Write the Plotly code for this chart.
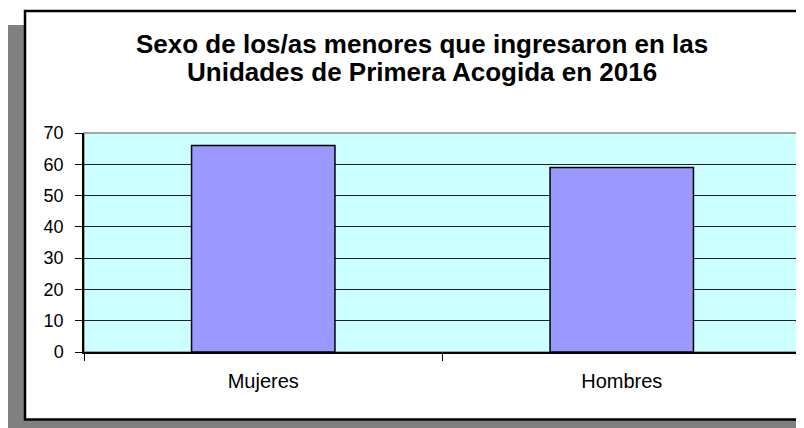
import plotly.graph_objects as go

categories = ["Mujeres", "Hombres"]
values = [66, 59]
y_ticks = [0, 10, 20, 30, 40, 50, 60, 70]
title_lines = ["Sexo de los/as menores que ingresaron en las",
               "Unidades de Primera Acogida en 2016"]

# page body has an 8px margin; work in window pixels and convert
OFF = 8
W, H = 804 - OFF, 428 - OFF
L, R, T, B = 84 - OFF, 3, 133 - OFF, 428 - 352
pw, ph = W - L - R, H - T - B

def px_x(p):
    return (p - OFF - L) / pw

def px_y(p):
    return (H - B - (p - OFF)) / ph

fig = go.Figure(go.Bar(
    x=categories, y=values,
    marker=dict(color="#9999FF", line=dict(color="black", width=1.5)),
    width=0.4,
))

shapes = [
    # shadow
    dict(type="rect", xref="paper", yref="paper", layer="below",
         x0=px_x(8), x1=px_x(830), y0=px_y(440), y1=px_y(25),
         fillcolor="#808080", line=dict(width=0)),
    # white chart box
    dict(type="rect", xref="paper", yref="paper", layer="below",
         x0=px_x(25), x1=px_x(830), y0=px_y(419.5), y1=px_y(11),
         fillcolor="white", line=dict(color="black", width=2.5)),
    # plot area
    dict(type="rect", xref="paper", yref="paper", layer="below",
         x0=0, x1=1, y0=0, y1=1,
         fillcolor="#CCFFFF", line=dict(color="#8a8a8a", width=1.5)),
]

annotations = []
for i, line in enumerate(title_lines):
    annotations.append(dict(
        text="<b>%s</b>" % line, xref="paper", yref="paper",
        x=px_x(422), y=px_y(44 + 28 * i), xanchor="center", yanchor="middle",
        showarrow=False, font=dict(family="Liberation Sans, Arial", size=26, color="black")))

fig.update_layout(
    width=W, height=H,
    margin=dict(l=L, r=R, t=T, b=B, pad=0),
    paper_bgcolor="white",
    plot_bgcolor="rgba(0,0,0,0)",
    shapes=shapes,
    annotations=annotations,
    showlegend=False,
    font=dict(family="Liberation Sans, Arial", size=18, color="black"),
    bargap=0.6,
)
fig.update_xaxes(
    type="category", tickson="boundaries", ticks="outside", ticklen=7,
    tickcolor="black", showline=True, linecolor="black", linewidth=1.5,
    showgrid=False, ticklabelstandoff=10, tickfont=dict(size=20),
)
fig.update_yaxes(
    range=[0, 70], tickvals=y_ticks, ticks="outside", ticklen=7,
    tickcolor="black", showline=True, linecolor="black", linewidth=1.5,
    showgrid=True, gridcolor="#222222", gridwidth=1, zeroline=False,
    ticklabelstandoff=8, tickfont=dict(size=18),
)

fig.write_html("out.html")
